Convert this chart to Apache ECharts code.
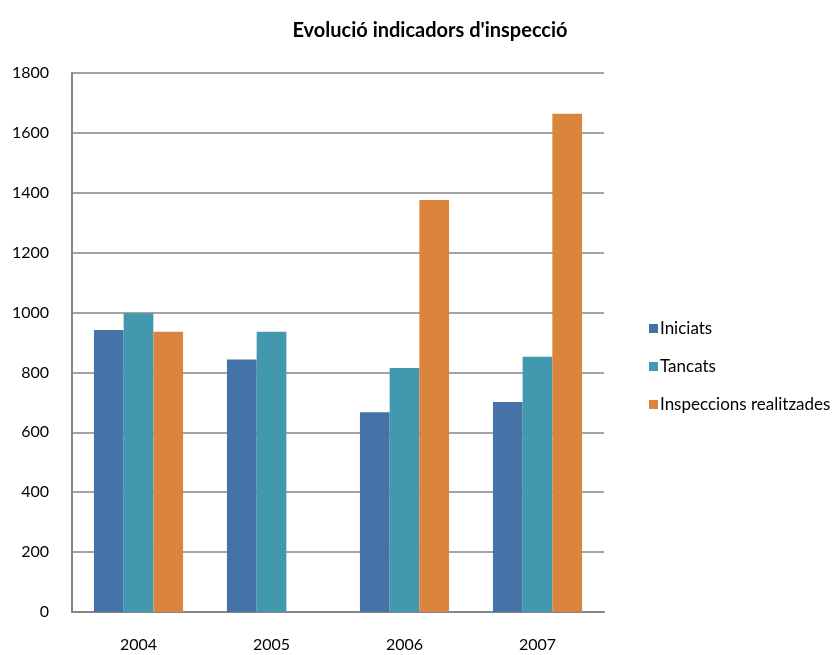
<!DOCTYPE html>
<html><head><meta charset="utf-8">
<script src="https://cdn.jsdelivr.net/npm/echarts@6/dist/echarts.min.js"></script>
<style>html,body{margin:0;padding:0;background:#fff}#c{width:835px;height:655px}</style>
</head><body><div id="c"></div>
<script>
const categories = ['2004', '2005', '2006', '2007'];
const iniciats = [942, 843, 667, 701];
const tancats = [998, 936, 815, 852];
const inspeccions = [936, null, 1376, 1664];
const seriesNames = ['Iniciats', 'Tancats', 'Inspeccions realitzades'];
const colors = ['#4572A7', '#4198AF', '#DB843D'];

const chart = echarts.init(document.getElementById('c'));
const font = 'Lato, "Open Sans", sans-serif';
chart.setOption({
  animation: false,
  textStyle: { fontFamily: font },
  title: {
    text: "Evolució indicadors d'inspecció",
    left: 425, top: 16, textAlign: 'center',
    textStyle: { fontSize: 20, fontWeight: 'bold', color: '#000', fontFamily: font }
  },
  legend: {
    orient: 'vertical', left: 644, top: 315, itemGap: 21,
    itemWidth: 9, itemHeight: 9, icon: 'rect',
    textStyle: { fontSize: 17, color: '#000', fontFamily: font, padding: [0, 0, 0, -3] },
    data: seriesNames
  },
  grid: { left: 72, top: 73, width: 532, height: 539, containLabel: false },
  xAxis: {
    type: 'category', data: categories,
    axisLine: { lineStyle: { color: '#868686', width: 2 } },
    axisTick: { show: false },
    axisLabel: { color: '#000', fontSize: 16, margin: 25, fontFamily: font }
  },
  yAxis: {
    type: 'value', min: 0, max: 1800, interval: 200,
    axisLine: { show: true, lineStyle: { color: '#868686', width: 2 } },
    axisTick: { show: false },
    splitLine: { lineStyle: { color: '#868686', width: 1.5 } },
    axisLabel: { color: '#000', fontSize: 16, margin: 23, fontFamily: font, formatter: v => String(v) }
  },
  series: [
    { name: seriesNames[0], type: 'bar', data: iniciats, barGap: '0%', barCategoryGap: '33%', itemStyle: { color: colors[0] } },
    { name: seriesNames[1], type: 'bar', data: tancats, barGap: '0%', barCategoryGap: '33%', itemStyle: { color: colors[1] } },
    { name: seriesNames[2], type: 'bar', data: inspeccions, barGap: '0%', barCategoryGap: '33%', itemStyle: { color: colors[2] } }
  ]
});
</script></body></html>
